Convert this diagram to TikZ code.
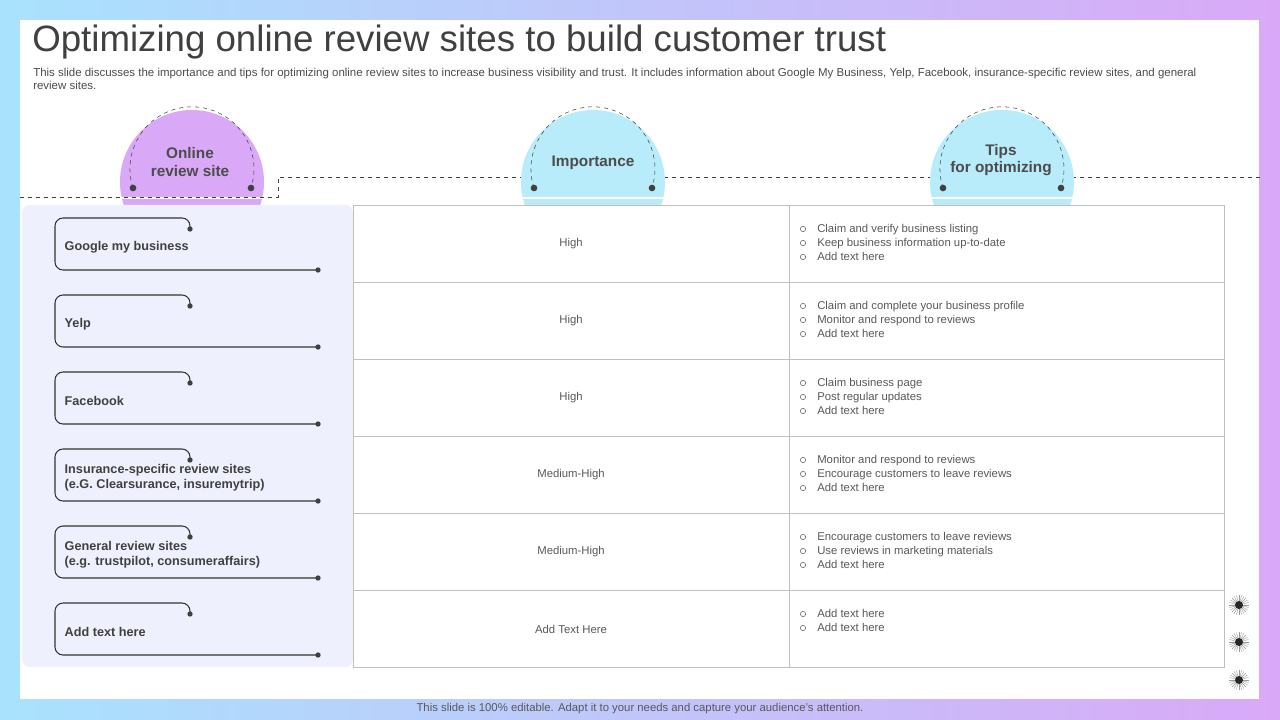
\documentclass[tikz,border=0pt]{standalone}
\usepackage{fontspec}
\setmainfont{Liberation Sans}
\begin{document}
\begin{tikzpicture}[x=0.75pt,y=-0.75pt,
  hdr/.style={font=\bfseries\fontsize{11.5}{13}\selectfont,text=black!70,align=center},
  lbl/.style={font=\bfseries\fontsize{9.5}{11}\selectfont,text=black!75,anchor=west,align=left},
  cell/.style={font=\fontsize{8.5}{10}\selectfont,text=black!65},
  tip/.style={font=\fontsize{8.5}{10.5}\selectfont,text=black!65,anchor=north west,align=left},
  dot/.style={circle,fill=black!75,inner sep=0pt,minimum size=4pt},
  bul/.style={circle,draw=black!65,inner sep=0pt,minimum size=4pt,line width=0.4pt},
  brk/.style={draw=black!80,line width=0.8pt,rounded corners=6pt}]
\definecolor{lpur}{HTML}{D9A9F7}
\definecolor{lcy}{HTML}{B8ECFB}
\definecolor{pan}{HTML}{EFF0FD}
\definecolor{bgl}{HTML}{A9E2FD}
\useasboundingbox (0,0) rectangle (1280,720);
\shade[left color=bgl, right color=lpur] (0,0) rectangle (1280,720);
\fill[white] (20,20) rectangle (1259,699);
\node[anchor=west,font=\fontsize{27.5}{30}\selectfont,text=black!75,inner sep=0pt] (title) at (32,42) {Optimizing online review sites to build customer trust};
\node[anchor=north west,align=left,font=\fontsize{8.6}{10}\selectfont,text=black!70,inner sep=0pt] (sub) at (33,68) {This slide discusses the importance and tips for optimizing online review sites to increase business visibility and trust. It includes information about Google My Business, Yelp, Facebook, insurance-specific review sites, and general\\review sites.};
% dashed line
\draw[dashed,black!75] (20,197) -- (278,197) -- (278,177) -- (1260,177);
% circles
\foreach \cx/\col/\nm in {192/lpur/c1,593/lcy/c2,1002/lcy/c3}{
  \begin{scope}
    \clip (\cx-80,90) rectangle (\cx+80,197);
    \fill[\col] (\cx,182) circle (72);
  \end{scope}
  \begin{scope}
    \clip (\cx-80,200) rectangle (\cx+80,205);
    \fill[\col] (\cx,182) circle (72);
  \end{scope}
  \draw[dashed,black!75] (\cx-59,188) arc[start angle=162,end angle=378,radius=62];
  \node[dot,minimum size=5pt] at (\cx-59,188) {};
  \node[dot,minimum size=5pt] at (\cx+59,188) {};
}
\node[hdr] (h1) at (190,162) {Online\\review site};
\node[hdr] (h2) at (593,163) {Importance};
\node[hdr] (h3) at (1001,160) {Tips\\for optimizing};
% left panel
\fill[pan,rounded corners=6pt] (22,205) rectangle (353,667);
% table
\draw[black!25] (353,205) rectangle (1224,667);
\foreach \y in {282,359,436,513,590} \draw[black!25] (353,\y) -- (1224,\y);
\draw[black!25] (789,205) -- (789,667);
% rows
\foreach \i/\lab/\imp in {0/Google my business/High, 1/Yelp/High, 2/Facebook/High,
   3/{Insurance-specific  review sites\\(e.G. Clearsurance, insuremytrip)}/Medium-High,
   4/{General review sites\\(e.g. trustpilot,  consumeraffairs)}/Medium-High, 5/Add text here/Add Text Here}{
  \pgfmathsetmacro{\t}{205+77*\i}
  \draw[brk] (190,\t+24) -- (190,\t+13) -- (55,\t+13) -- (55,\t+65) -- (318,\t+65);
  \node[dot] at (190,\t+24) {};
  \node[dot] at (318,\t+65) {};
  \node[lbl] at (60,\t+42) {\lab};
  \node[cell] at (571,\t+39) {\imp};
}
\foreach \i/\n/\tx in {0/3/{Claim and verify business listing\\Keep business information up-to-date\\Add text here},
 1/3/{Claim and complete your business profile\\Monitor and respond to reviews\\Add text here},
 2/3/{Claim business page\\Post regular updates\\Add text here},
 3/3/{Monitor and respond to reviews\\Encourage customers to leave reviews\\Add text here},
 4/3/{Encourage customers to leave reviews\\Use reviews in marketing materials\\Add text here},
 5/2/{Add text here\\Add text here}}{
  \pgfmathsetmacro{\t}{205+77*\i}
  \node[tip,inner sep=0pt] at (817,\t+19) {\tx};
  \foreach \k in {1,...,\n} \node[bul] at (803,\t+10+14*\k) {};
}
% starbursts
\foreach \y in {605,642,680}{
  \foreach \a in {0,15,...,345} \draw[black!40,line width=0.3pt] (1239,\y) -- ++(\a:10);
  \fill[black!85] (1239,\y) circle (4);
}
\node[font=\fontsize{8.5}{10}\selectfont,text=black!65] (foot) at (640,709) {This slide is 100\% editable. Adapt it to your needs and capture your audience's attention.};
\end{tikzpicture}
\end{document}
